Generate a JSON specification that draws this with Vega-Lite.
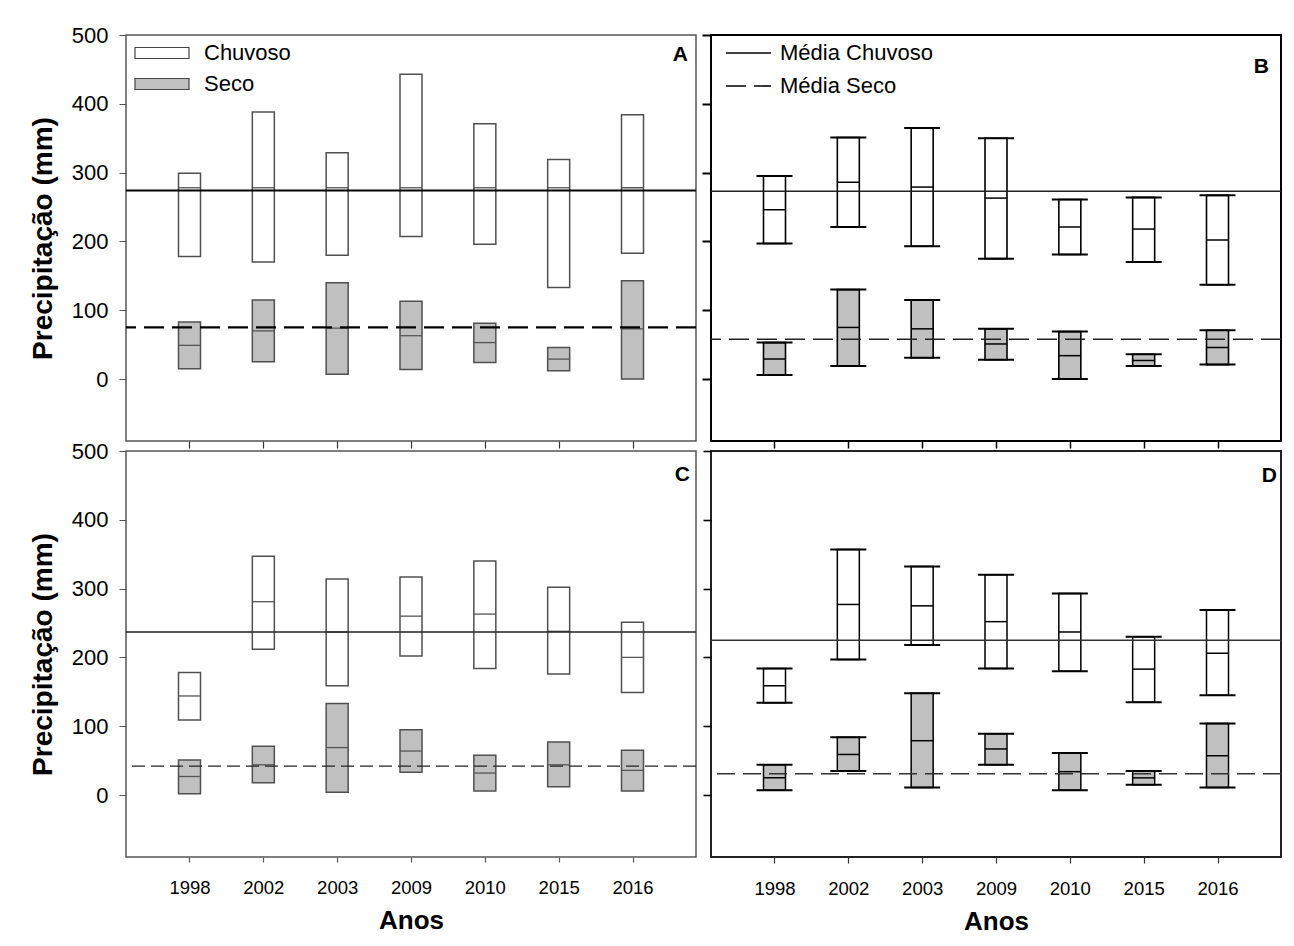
{
  "$schema": "https://vega.github.io/schema/vega-lite/v6.json",
  "background": "white",
  "padding": {"left": 28, "top": 23, "right": 5, "bottom": 5},
  "columns": 2,
  "spacing": {"row": 10, "column": 15},
  "bounds": "flush",
  "resolve": {
    "scale": {"fill": "independent", "strokeDash": "independent"},
    "legend": {"fill": "independent", "strokeDash": "independent"}
  },
  "config": {
    "font": "Liberation Sans",
    "axis": {"grid": false, "domain": false, "labelColor": "black", "titleColor": "black", "labelFont": "Liberation Sans", "titleFont": "Liberation Sans"},
    "legend": {"labelFont": "Liberation Sans", "labelColor": "black"},
    "title": {"font": "Liberation Sans", "color": "black", "fontWeight": "bold", "fontSize": 21, "anchor": "end", "baseline": "alphabetic", "frame": "group"}
  },
  "datasets": {
    "caixas": [
      {"painel": "A", "ano": "1998", "estacao": "Chuvoso", "min": 178, "mediana": 278, "max": 299},
      {"painel": "A", "ano": "2002", "estacao": "Chuvoso", "min": 170, "mediana": 278, "max": 388},
      {"painel": "A", "ano": "2003", "estacao": "Chuvoso", "min": 180, "mediana": 278, "max": 329},
      {"painel": "A", "ano": "2009", "estacao": "Chuvoso", "min": 207, "mediana": 278, "max": 443},
      {"painel": "A", "ano": "2010", "estacao": "Chuvoso", "min": 196, "mediana": 278, "max": 371},
      {"painel": "A", "ano": "2015", "estacao": "Chuvoso", "min": 133, "mediana": 278, "max": 319},
      {"painel": "A", "ano": "2016", "estacao": "Chuvoso", "min": 183, "mediana": 278, "max": 384},
      {"painel": "A", "ano": "1998", "estacao": "Seco", "min": 15, "mediana": 49, "max": 83},
      {"painel": "A", "ano": "2002", "estacao": "Seco", "min": 25, "mediana": 70, "max": 115},
      {"painel": "A", "ano": "2003", "estacao": "Seco", "min": 7, "mediana": 74, "max": 140},
      {"painel": "A", "ano": "2009", "estacao": "Seco", "min": 14, "mediana": 63, "max": 113},
      {"painel": "A", "ano": "2010", "estacao": "Seco", "min": 24, "mediana": 53, "max": 81},
      {"painel": "A", "ano": "2015", "estacao": "Seco", "min": 12, "mediana": 29, "max": 46},
      {"painel": "A", "ano": "2016", "estacao": "Seco", "min": 0, "mediana": 73, "max": 143},
      {"painel": "B", "ano": "1998", "estacao": "Chuvoso", "min": 197, "mediana": 246, "max": 295},
      {"painel": "B", "ano": "2002", "estacao": "Chuvoso", "min": 221, "mediana": 286, "max": 351},
      {"painel": "B", "ano": "2003", "estacao": "Chuvoso", "min": 193, "mediana": 279, "max": 365},
      {"painel": "B", "ano": "2009", "estacao": "Chuvoso", "min": 175, "mediana": 263, "max": 350},
      {"painel": "B", "ano": "2010", "estacao": "Chuvoso", "min": 181, "mediana": 221, "max": 261},
      {"painel": "B", "ano": "2015", "estacao": "Chuvoso", "min": 170, "mediana": 218, "max": 264},
      {"painel": "B", "ano": "2016", "estacao": "Chuvoso", "min": 137, "mediana": 202, "max": 267},
      {"painel": "B", "ano": "1998", "estacao": "Seco", "min": 6, "mediana": 29, "max": 53},
      {"painel": "B", "ano": "2002", "estacao": "Seco", "min": 19, "mediana": 75, "max": 130},
      {"painel": "B", "ano": "2003", "estacao": "Seco", "min": 31, "mediana": 73, "max": 115},
      {"painel": "B", "ano": "2009", "estacao": "Seco", "min": 28, "mediana": 51, "max": 73},
      {"painel": "B", "ano": "2010", "estacao": "Seco", "min": 0, "mediana": 34, "max": 69},
      {"painel": "B", "ano": "2015", "estacao": "Seco", "min": 19, "mediana": 27, "max": 36},
      {"painel": "B", "ano": "2016", "estacao": "Seco", "min": 21, "mediana": 46, "max": 71},
      {"painel": "C", "ano": "1998", "estacao": "Chuvoso", "min": 109, "mediana": 144, "max": 178},
      {"painel": "C", "ano": "2002", "estacao": "Chuvoso", "min": 212, "mediana": 281, "max": 347},
      {"painel": "C", "ano": "2003", "estacao": "Chuvoso", "min": 159, "mediana": 237, "max": 314},
      {"painel": "C", "ano": "2009", "estacao": "Chuvoso", "min": 202, "mediana": 260, "max": 317},
      {"painel": "C", "ano": "2010", "estacao": "Chuvoso", "min": 184, "mediana": 263, "max": 340},
      {"painel": "C", "ano": "2015", "estacao": "Chuvoso", "min": 176, "mediana": 238, "max": 302},
      {"painel": "C", "ano": "2016", "estacao": "Chuvoso", "min": 149, "mediana": 200, "max": 251},
      {"painel": "C", "ano": "1998", "estacao": "Seco", "min": 2, "mediana": 27, "max": 51},
      {"painel": "C", "ano": "2002", "estacao": "Seco", "min": 18, "mediana": 44, "max": 71},
      {"painel": "C", "ano": "2003", "estacao": "Seco", "min": 4, "mediana": 69, "max": 133},
      {"painel": "C", "ano": "2009", "estacao": "Seco", "min": 33, "mediana": 64, "max": 95},
      {"painel": "C", "ano": "2010", "estacao": "Seco", "min": 6, "mediana": 32, "max": 58},
      {"painel": "C", "ano": "2015", "estacao": "Seco", "min": 12, "mediana": 44, "max": 77},
      {"painel": "C", "ano": "2016", "estacao": "Seco", "min": 6, "mediana": 36, "max": 65},
      {"painel": "D", "ano": "1998", "estacao": "Chuvoso", "min": 134, "mediana": 159, "max": 184},
      {"painel": "D", "ano": "2002", "estacao": "Chuvoso", "min": 197, "mediana": 277, "max": 357},
      {"painel": "D", "ano": "2003", "estacao": "Chuvoso", "min": 218, "mediana": 275, "max": 332},
      {"painel": "D", "ano": "2009", "estacao": "Chuvoso", "min": 184, "mediana": 252, "max": 320},
      {"painel": "D", "ano": "2010", "estacao": "Chuvoso", "min": 180, "mediana": 237, "max": 293},
      {"painel": "D", "ano": "2015", "estacao": "Chuvoso", "min": 135, "mediana": 183, "max": 230},
      {"painel": "D", "ano": "2016", "estacao": "Chuvoso", "min": 145, "mediana": 206, "max": 269},
      {"painel": "D", "ano": "1998", "estacao": "Seco", "min": 7, "mediana": 25, "max": 44},
      {"painel": "D", "ano": "2002", "estacao": "Seco", "min": 35, "mediana": 59, "max": 84},
      {"painel": "D", "ano": "2003", "estacao": "Seco", "min": 11, "mediana": 79, "max": 148},
      {"painel": "D", "ano": "2009", "estacao": "Seco", "min": 44, "mediana": 67, "max": 89},
      {"painel": "D", "ano": "2010", "estacao": "Seco", "min": 7, "mediana": 34, "max": 61},
      {"painel": "D", "ano": "2015", "estacao": "Seco", "min": 15, "mediana": 25, "max": 35},
      {"painel": "D", "ano": "2016", "estacao": "Seco", "min": 11, "mediana": 57, "max": 104}
    ],
    "medias": [
      {"painel": "A", "serie": "Média Chuvoso", "valor": 274},
      {"painel": "A", "serie": "Média Seco", "valor": 75},
      {"painel": "B", "serie": "Média Chuvoso", "valor": 273},
      {"painel": "B", "serie": "Média Seco", "valor": 58},
      {"painel": "C", "serie": "Média Chuvoso", "valor": 237},
      {"painel": "C", "serie": "Média Seco", "valor": 42},
      {"painel": "D", "serie": "Média Chuvoso", "valor": 225},
      {"painel": "D", "serie": "Média Seco", "valor": 31}
    ]
  },
  "concat": [
    {
      "width": 570, "height": 406,
      "view": {"stroke": "#555", "strokeWidth": 1.5},
      "title": {"text": "A", "offset": -41, "dx": -8},
      "layer": [
        {
          "data": {"name": "caixas"},
          "transform": [{"filter": "datum.painel == 'A'"}],
          "mark": {"type": "bar", "width": 22, "stroke": "#505050", "strokeWidth": 1.5},
          "encoding": {
            "x": {"field": "ano", "type": "ordinal", "scale": {"type": "point", "padding": 0.86}, "axis": {"labels": false, "title": null, "tickSize": 7, "tickColor": "#333", "tickWidth": 1.2}},
            "y": {"field": "min", "type": "quantitative", "scale": {"domain": [-90, 500], "nice": false, "zero": false}, "axis": {"values": [0, 100, 200, 300, 400, 500], "labelFontSize": 22, "tickSize": 7, "tickColor": "#555", "labelPadding": 11, "title": "Precipitação (mm)", "titleFontSize": 28, "titleFontWeight": "bold", "titlePadding": 14}},
            "y2": {"field": "max"},
            "fill": {"field": "estacao", "type": "nominal", "scale": {"domain": ["Chuvoso", "Seco"], "range": ["white", "#c0c0c0"]},
              "legend": {"orient": "top-left", "offset": 6, "padding": 0, "title": null, "symbolType": "M-0.82,-0.5H4.09V0.5H-0.82Z", "symbolSize": 484, "symbolStrokeColor": "#444", "symbolStrokeWidth": 1.2, "labelFontSize": 22, "labelOffset": 48, "rowPadding": 8}}
          }
        },
        {
          "data": {"name": "caixas"},
          "transform": [{"filter": "datum.painel == 'A'"}],
          "mark": {"type": "tick", "orient": "horizontal", "size": 22, "thickness": 1.3, "color": "#555", "opacity": 1},
          "encoding": {
            "x": {"field": "ano", "type": "ordinal"},
            "y": {"field": "mediana", "type": "quantitative"}
          }
        },
        {
          "data": {"name": "medias"},
          "transform": [{"filter": "datum.painel == 'A'"}],
          "mark": {"type": "rule", "color": "black", "strokeWidth": 2.2},
          "encoding": {
            "y": {"field": "valor", "type": "quantitative"},
            "strokeDash": {"field": "serie", "type": "nominal", "scale": {"domain": ["Média Chuvoso", "Média Seco"], "range": [[1, 0], [20, 8]]}, "legend": null}
          }
        }
      ]
    },
    {
      "width": 570, "height": 406,
      "view": {"stroke": "black", "strokeWidth": 2},
      "title": {"text": "B", "offset": -43, "dx": -12},
      "layer": [
        {
          "data": {"name": "caixas"},
          "transform": [{"filter": "datum.painel == 'B'"}],
          "mark": {"type": "bar", "width": 22, "stroke": "black", "strokeWidth": 1.6},
          "encoding": {
            "x": {"field": "ano", "type": "ordinal", "scale": {"type": "point", "padding": 0.86}, "axis": {"labels": false, "title": null, "tickSize": 7, "tickColor": "black", "tickWidth": 1.5}},
            "y": {"field": "min", "type": "quantitative", "scale": {"domain": [-90, 500], "nice": false, "zero": false}, "axis": {"values": [0, 100, 200, 300, 400, 500], "labels": false, "title": null, "tickSize": 9, "tickColor": "black", "tickWidth": 2}},
            "y2": {"field": "max"},
            "fill": {"field": "estacao", "type": "nominal", "scale": {"domain": ["Chuvoso", "Seco"], "range": ["white", "#c0c0c0"]}, "legend": null}
          }
        },
        {
          "data": {"name": "caixas"},
          "transform": [{"filter": "datum.painel == 'B'"}],
          "mark": {"type": "tick", "orient": "horizontal", "size": 22, "thickness": 1.5, "color": "black", "opacity": 1},
          "encoding": {"x": {"field": "ano", "type": "ordinal"}, "y": {"field": "mediana", "type": "quantitative"}}
        },
        {
          "data": {"name": "caixas"},
          "transform": [{"filter": "datum.painel == 'B'"}],
          "mark": {"type": "tick", "orient": "horizontal", "size": 36, "thickness": 2, "color": "black", "opacity": 1},
          "encoding": {"x": {"field": "ano", "type": "ordinal"}, "y": {"field": "min", "type": "quantitative"}}
        },
        {
          "data": {"name": "caixas"},
          "transform": [{"filter": "datum.painel == 'B'"}],
          "mark": {"type": "tick", "orient": "horizontal", "size": 36, "thickness": 2, "color": "black", "opacity": 1},
          "encoding": {"x": {"field": "ano", "type": "ordinal"}, "y": {"field": "max", "type": "quantitative"}}
        },
        {
          "data": {"name": "medias"},
          "transform": [{"filter": "datum.painel == 'B'"}],
          "mark": {"type": "rule", "color": "#222", "strokeWidth": 1.5},
          "encoding": {
            "y": {"field": "valor", "type": "quantitative"},
            "strokeDash": {"field": "serie", "type": "nominal", "scale": {"domain": ["Média Chuvoso", "Média Seco"], "range": [[1, 0], [20, 8]]},
              "legend": {"orient": "top-left", "offset": 6, "padding": 0, "title": null, "symbolType": "M-0.28,0H3.81", "symbolSize": 484, "symbolStrokeColor": "black", "symbolStrokeWidth": 1.6, "labelFontSize": 22, "labelOffset": 39, "rowPadding": 10}}
          }
        }
      ]
    },
    {
      "width": 570, "height": 406,
      "view": {"stroke": "#555", "strokeWidth": 1.5},
      "title": {"text": "C", "offset": -45, "dx": -6},
      "layer": [
        {
          "data": {"name": "caixas"},
          "transform": [{"filter": "datum.painel == 'C'"}],
          "mark": {"type": "bar", "width": 22, "stroke": "#505050", "strokeWidth": 1.5},
          "encoding": {
            "x": {"field": "ano", "type": "ordinal", "scale": {"type": "point", "padding": 0.86}, "axis": {"labelFontSize": 18.5, "labelAngle": 0, "labelPadding": 16, "tickSize": 5, "tickColor": "#555", "tickWidth": 1.2, "title": "Anos", "titleFontSize": 26, "titleFontWeight": "bold", "titlePadding": 11}},
            "y": {"field": "min", "type": "quantitative", "scale": {"domain": [-90, 500], "nice": false, "zero": false}, "axis": {"values": [0, 100, 200, 300, 400, 500], "labelFontSize": 22, "tickSize": 7, "tickColor": "#555", "labelPadding": 11, "title": "Precipitação (mm)", "titleFontSize": 28, "titleFontWeight": "bold", "titlePadding": 14}},
            "y2": {"field": "max"},
            "fill": {"field": "estacao", "type": "nominal", "scale": {"domain": ["Chuvoso", "Seco"], "range": ["white", "#c0c0c0"]}, "legend": null}
          }
        },
        {
          "data": {"name": "caixas"},
          "transform": [{"filter": "datum.painel == 'C'"}],
          "mark": {"type": "tick", "orient": "horizontal", "size": 22, "thickness": 1.3, "color": "#555", "opacity": 1},
          "encoding": {"x": {"field": "ano", "type": "ordinal"}, "y": {"field": "mediana", "type": "quantitative"}}
        },
        {
          "data": {"name": "medias"},
          "transform": [{"filter": "datum.painel == 'C'"}],
          "mark": {"type": "rule", "color": "#222", "strokeWidth": 1.3},
          "encoding": {
            "y": {"field": "valor", "type": "quantitative"},
            "strokeDash": {"field": "serie", "type": "nominal", "scale": {"domain": ["Média Chuvoso", "Média Seco"], "range": [[1, 0], [13, 6]]}, "legend": null}
          }
        }
      ]
    },
    {
      "width": 570, "height": 406,
      "view": {"stroke": "#222", "strokeWidth": 2},
      "title": {"text": "D", "offset": -36, "dx": -4},
      "layer": [
        {
          "data": {"name": "caixas"},
          "transform": [{"filter": "datum.painel == 'D'"}],
          "mark": {"type": "bar", "width": 22, "stroke": "black", "strokeWidth": 1.5},
          "encoding": {
            "x": {"field": "ano", "type": "ordinal", "scale": {"type": "point", "padding": 0.86}, "axis": {"labelFontSize": 18.5, "labelAngle": 0, "labelPadding": 16, "tickSize": 6, "tickColor": "#333", "tickWidth": 1.2, "title": "Anos", "titleFontSize": 26, "titleFontWeight": "bold", "titlePadding": 11}},
            "y": {"field": "min", "type": "quantitative", "scale": {"domain": [-90, 500], "nice": false, "zero": false}, "axis": {"values": [0, 100, 200, 300, 400, 500], "labels": false, "title": null, "tickSize": 8, "tickColor": "black", "tickWidth": 1.6}},
            "y2": {"field": "max"},
            "fill": {"field": "estacao", "type": "nominal", "scale": {"domain": ["Chuvoso", "Seco"], "range": ["white", "#c0c0c0"]}, "legend": null}
          }
        },
        {
          "data": {"name": "caixas"},
          "transform": [{"filter": "datum.painel == 'D'"}],
          "mark": {"type": "tick", "orient": "horizontal", "size": 22, "thickness": 1.5, "color": "black", "opacity": 1},
          "encoding": {"x": {"field": "ano", "type": "ordinal"}, "y": {"field": "mediana", "type": "quantitative"}}
        },
        {
          "data": {"name": "caixas"},
          "transform": [{"filter": "datum.painel == 'D'"}],
          "mark": {"type": "tick", "orient": "horizontal", "size": 36, "thickness": 2, "color": "black", "opacity": 1},
          "encoding": {"x": {"field": "ano", "type": "ordinal"}, "y": {"field": "min", "type": "quantitative"}}
        },
        {
          "data": {"name": "caixas"},
          "transform": [{"filter": "datum.painel == 'D'"}],
          "mark": {"type": "tick", "orient": "horizontal", "size": 36, "thickness": 2, "color": "black", "opacity": 1},
          "encoding": {"x": {"field": "ano", "type": "ordinal"}, "y": {"field": "max", "type": "quantitative"}}
        },
        {
          "data": {"name": "medias"},
          "transform": [{"filter": "datum.painel == 'D'"}],
          "mark": {"type": "rule", "color": "#333", "strokeWidth": 1.5},
          "encoding": {
            "y": {"field": "valor", "type": "quantitative"},
            "strokeDash": {"field": "serie", "type": "nominal", "scale": {"domain": ["Média Chuvoso", "Média Seco"], "range": [[1, 0], [18, 8]]}, "legend": null}
          }
        }
      ]
    }
  ]
}
